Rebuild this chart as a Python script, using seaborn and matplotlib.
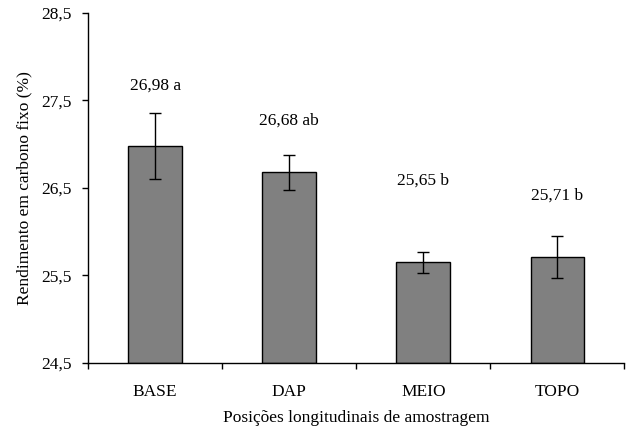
import numpy as np
import pandas as pd
import matplotlib
matplotlib.use("Agg")
import matplotlib.pyplot as plt
from matplotlib.ticker import FixedLocator
import seaborn as sns

# data
posicoes = ["BASE", "DAP", "MEIO", "TOPO"]
medias = [26.98, 26.68, 25.65, 25.71]
erros = [0.38, 0.20, 0.12, 0.24]
letras = ["a", "ab", "b", "b"]
altura_rotulo = [27.67, 27.27, 26.58, 26.41]

df = pd.DataFrame({"pos": posicoes, "media": medias})

sns.set_style("white")
plt.rcParams["font.family"] = ["Liberation Serif", "DejaVu Serif"]
plt.rcParams["font.size"] = 12.5
plt.rcParams["text.color"] = "black"
plt.rcParams["axes.labelcolor"] = "black"
plt.rcParams["xtick.color"] = "black"
plt.rcParams["ytick.color"] = "black"

fig = plt.figure(figsize=(6.26, 4.33), dpi=100)
ax = fig.add_axes([0.1406, 0.1617, 0.857, 0.8083])

sns.barplot(data=df, x="pos", y="media", color="#808080", saturation=1,
            edgecolor="black", linewidth=1, width=0.4, ax=ax,
            errorbar=None)
# bars start at the axis bottom (24,5)
for p in ax.patches:
    p.set_y(24.5)
    p.set_height(p.get_height() - 24.5)

ax.errorbar(np.arange(len(posicoes)), medias, yerr=erros, fmt="none",
            ecolor="black", elinewidth=1, capsize=4, capthick=1)

for i, (m, l, h) in enumerate(zip(medias, letras, altura_rotulo)):
    ax.text(i, h, f"{m:.2f}".replace(".", ",") + " " + l,
            ha="center", va="center", fontsize=12.5)

ax.set_ylim(24.5, 28.5)
ax.set_xlim(-0.5, 3.5)
yt = [24.5, 25.5, 26.5, 27.5, 28.5]
ax.set_yticks(yt)
ax.set_yticklabels([f"{v:.1f}".replace(".", ",") for v in yt])
ax.xaxis.set_minor_locator(FixedLocator([-0.5, 0.5, 1.5, 2.5, 3.5]))
ax.tick_params(axis="x", which="major", length=0, pad=15)
ax.tick_params(axis="x", which="minor", length=4, width=1, direction="out", color="black", bottom=True)
ax.tick_params(axis="y", length=4, width=1, direction="out", color="black", left=True, pad=8)

sns.despine(ax=ax)
for s in ["left", "bottom"]:
    ax.spines[s].set_color("black")
    ax.spines[s].set_linewidth(1)

ax.set_xlabel("Posições longitudinais de amostragem", labelpad=7)
ax.set_ylabel("Rendimento em carbono fixo (%)", labelpad=6)

fig.savefig("out.png", dpi=100)
